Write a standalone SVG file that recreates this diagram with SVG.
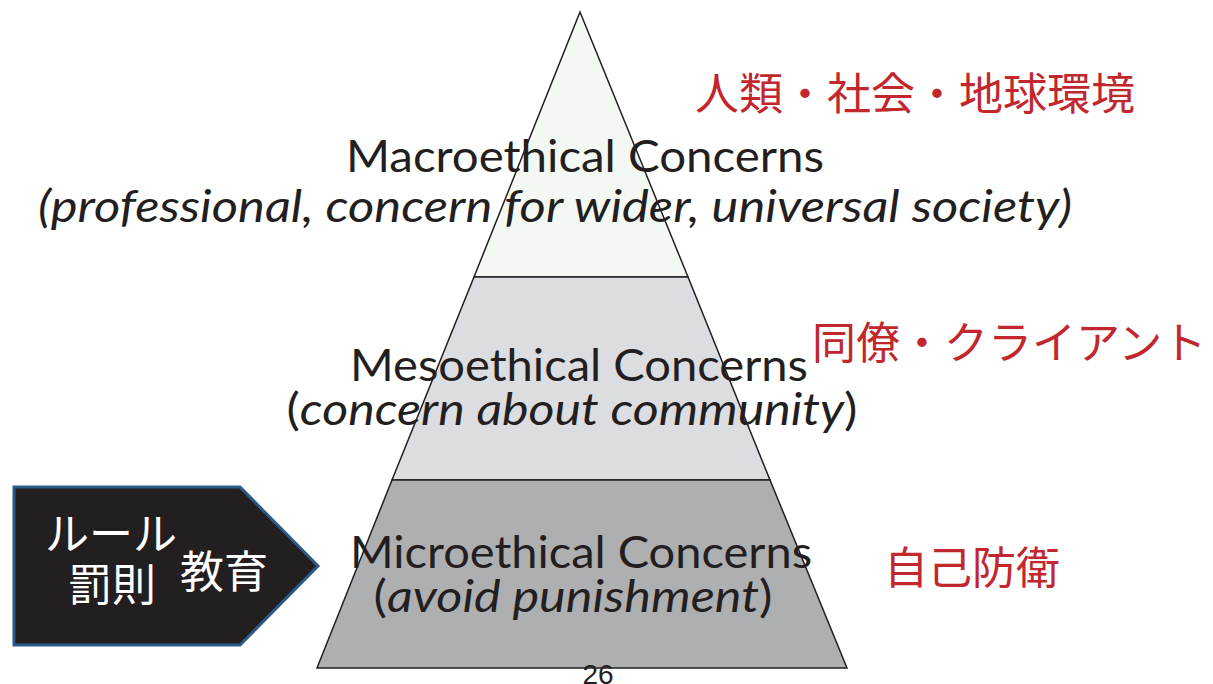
<svg xmlns="http://www.w3.org/2000/svg" width="1213" height="684" viewBox="0 0 1213 684">
<style>
.lvl{stroke:#231f20;stroke-width:1.5}
.en{font-family:Lato,"Open Sans","Liberation Sans",sans-serif;fill:#231f20;font-size:44px}
.it{font-style:italic}
.jp{font-family:"Noto Sans CJK JP",sans-serif;font-size:44px}
.red{fill:#c1272d}
.wh{fill:#ffffff}
</style>
<rect width="1213" height="684" fill="#ffffff"/>
<g id="pyramid">
<g id="macro">
<polygon class="lvl" points="580,12 688,277 474,277" fill="#f3f8f2"/>
</g>
<g id="meso">
<polygon class="lvl" points="474,277 688,277 770,480 392,480" fill="#dcdde0"/>
</g>
<g id="micro">
<polygon class="lvl" points="392,480 770,480 847,668 317,668" fill="#aeafb1"/>
</g>
</g>
<g id="labels">
<text class="en" x="585" y="172" text-anchor="middle" textLength="478" lengthAdjust="spacingAndGlyphs">Macroethical Concerns</text>
<text class="en it" x="555" y="222" text-anchor="middle" textLength="1034" lengthAdjust="spacingAndGlyphs">(professional, concern for wider, universal society)</text>
<text class="en" x="579" y="381" text-anchor="middle" textLength="458" lengthAdjust="spacingAndGlyphs">Mesoethical Concerns</text>
<text class="en" x="572" y="425" text-anchor="middle" textLength="571" lengthAdjust="spacingAndGlyphs">(<tspan class="it">concern about community</tspan>)</text>
<text class="en" x="581" y="568" text-anchor="middle" textLength="462" lengthAdjust="spacingAndGlyphs">Microethical Concerns</text>
<text class="en" x="573" y="612" text-anchor="middle" textLength="399" lengthAdjust="spacingAndGlyphs">(<tspan class="it">avoid punishment</tspan>)</text>
<text x="598" y="684" text-anchor="middle" font-family="'Liberation Sans',sans-serif" font-size="28" fill="#231f20">26</text>
</g>
<g id="red-labels">
<text class="jp red" x="695" y="110">人類・社会・地球環境</text>
<text class="jp red" x="812" y="359">同僚・クライアント</text>
<text class="jp red" x="884" y="584">自己防衛</text>
</g>
<g id="arrow-box">
<polygon points="14,487 240,487 318,566 240,645 14,645" fill="#231f20" stroke="#2b5a8a" stroke-width="3" stroke-linejoin="miter"/>
<text class="jp wh" x="45" y="550">ルール</text>
<text class="jp wh" x="68" y="601" font-size="42">罰則</text>
<text class="jp wh" x="180" y="588" font-size="42">教育</text>
</g>
</svg>
